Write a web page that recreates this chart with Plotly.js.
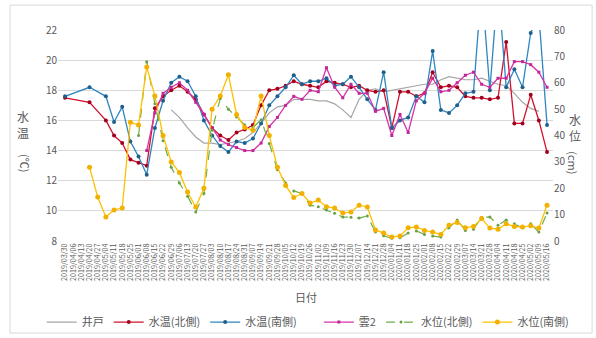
<!DOCTYPE html>
<html>
<head>
<meta charset="utf-8">
<script src="https://cdn.plot.ly/plotly-3.0.1.min.js"></script>
<style>html,body{margin:0;padding:0;background:#fff;}#chart{width:596px;height:338px;}</style>
</head>
<body>
<div id="chart"></div>
<script>
var dates = ["2019/03/30","2019/04/06","2019/04/13","2019/04/20","2019/04/27","2019/05/04","2019/05/11","2019/05/18","2019/05/25","2019/06/01",
"2019/06/08","2019/06/15","2019/06/22","2019/06/29","2019/07/06","2019/07/13","2019/07/20","2019/07/27","2019/08/03","2019/08/10",
"2019/08/17","2019/08/24","2019/08/31","2019/09/07","2019/09/14","2019/09/21","2019/09/28","2019/10/05","2019/10/12","2019/10/19",
"2019/10/26","2019/11/02","2019/11/09","2019/11/16","2019/11/23","2019/11/30","2019/12/07","2019/12/14","2019/12/21","2019/12/28",
"2020/01/04","2020/01/11","2020/01/18","2020/01/25","2020/02/01","2020/02/08","2020/02/15","2020/02/22","2020/02/29","2020/03/07",
"2020/03/14","2020/03/21","2020/03/28","2020/04/04","2020/04/11","2020/04/18","2020/04/25","2020/05/02","2020/05/09","2020/05/16"];

var well = [null,null,null,null,null,null,null,null,null,null,
null,null,null,16.7,16.2,15.5,14.9,14.5,14.5,14.4,
14.5,14.6,14.8,15.2,15.8,16.5,16.9,17.0,17.4,17.4,
17.4,17.3,17.3,17.1,16.7,16.2,17.4,18.0,18.1,17.9,
18.0,18.1,18.2,18.3,18.4,18.4,18.7,18.9,18.8,18.7,
18.7,18.8,18.6,18.4,18.3,17.8,17.2,16.8,16.6,null];

var tempNorth = [17.5,null,null,17.2,null,16.0,15.0,14.5,13.4,13.2,
13.0,16.8,17.6,18.0,18.3,17.9,17.4,16.4,15.5,15.0,
14.7,15.2,15.4,15.7,17.0,18.0,18.1,18.3,18.6,18.4,
18.3,18.2,18.6,18.5,18.4,18.2,18.3,18.0,17.9,18.0,
15.5,17.9,17.9,17.6,17.8,19.2,18.2,18.3,18.2,17.6,
17.5,17.5,17.4,17.5,21.2,15.8,15.8,17.7,16.0,13.9];

var tempSouth = [17.6,null,null,18.2,null,17.6,15.9,16.9,14.6,13.6,
12.4,15.5,17.3,18.5,18.9,18.6,17.6,16.0,15.0,14.3,
13.9,14.6,14.5,14.8,15.8,17.0,17.6,18.2,19.0,18.4,
18.6,18.6,18.8,18.3,18.4,18.9,18.2,17.4,16.7,19.2,
15.5,16.0,16.2,17.6,17.2,20.6,16.7,16.5,17.0,17.8,
17.9,25,18.0,25,18.2,19.4,18.2,21.8,23,15.7];

var kumo2 = [null,null,null,null,null,null,null,null,null,null,
14.0,16.5,17.8,18.2,18.5,18.0,17.2,16.4,15.5,14.7,
14.4,14.2,14.0,14.0,14.5,15.6,16.2,17.0,17.6,17.4,
18.0,17.9,19.5,18.2,17.5,18.4,17.8,17.8,16.6,16.8,
15.0,16.4,15.2,17.3,17.8,18.8,17.9,18.0,18.5,19.0,
19.2,18.4,18.2,18.8,18.8,19.9,19.9,19.7,19.2,18.2];

var levelNorth = [null,null,null,null,null,null,null,null,null,40,
68,52,38,28,22,17,11,18,42,54,
50,47,44,43,46,37,27,22,19,18,
13.6,13,11.8,10.5,9.1,9,8.7,9.5,3.4,2,
1,1.2,3,3.8,2.5,1.9,1.5,5,8,4,
4.5,9,9.1,6,8,6.5,5,6.5,3.4,10.6];

var levelSouth = [null,null,null,28,16.7,9.1,11.8,12.5,45,44,
66,55,40,30,26,18.6,12.9,20,50,55,
63,48,43,42,55,40,28,21,16.5,18,
14.4,15.5,13,12.5,10.6,11,13.6,12.9,4.2,3,
1.5,1.9,5,5.3,4,3.4,2.5,6,7,5,
5.5,8.5,4.9,4.5,6.5,5.5,5.3,5.8,4.9,13.6];

var names = ["井戸","水温(北側)","水温(南側)","雲2","水位(北側)","水位(南側)"];

var traces = [
 {x:dates,y:well,name:names[0],legend:"legend",mode:"lines",connectgaps:true,line:{color:"#A5A5A5",width:1.2}},
 {x:dates,y:tempNorth,name:names[1],legend:"legend",mode:"lines+markers",connectgaps:true,line:{color:"#D0102E",width:1.3},marker:{color:"#A0001E",size:4}},
 {x:dates,y:tempSouth,name:names[2],legend:"legend",mode:"lines+markers",connectgaps:true,line:{color:"#2E86C1",width:1.3},marker:{color:"#1F5F8B",size:4}},
 {x:dates,y:kumo2,name:names[3],legend:"legend2",mode:"lines+markers",connectgaps:true,line:{color:"#D633A8",width:1.3},marker:{color:"#C02896",size:3,symbol:"square"}},
 {x:dates,y:levelNorth,name:names[4],legend:"legend2",yaxis:"y2",mode:"lines+markers",connectgaps:true,line:{color:"#70AD47",width:1.2,dash:"dash"},marker:{color:"#6A9F45",size:3}},
 {x:dates,y:levelSouth,name:names[5],legend:"legend2",yaxis:"y2",mode:"lines+markers",connectgaps:true,line:{color:"#FFC000",width:1.3},marker:{color:"#F2B000",size:5}}
];

var tickFont = {family:"Noto Sans CJK JP",size:10,color:"#595959"};
var legFont = {family:"Noto Sans CJK JP",size:11,color:"#595959"};

var layout = {
 width:596,height:338,
 margin:{l:58,r:43,t:30,b:97},
 paper_bgcolor:"#ffffff",plot_bgcolor:"#ffffff",
 font:{family:"Noto Sans CJK JP",color:"#595959"},
 showlegend:true,
 legend:{orientation:"h",xref:"container",yref:"container",x:0.07,xanchor:"left",y:0.047,yanchor:"middle",font:legFont,itemwidth:30,bgcolor:"rgba(0,0,0,0)"},
 legend2:{orientation:"h",xref:"container",yref:"container",x:0.535,xanchor:"left",y:0.047,yanchor:"middle",font:legFont,itemwidth:30,bgcolor:"rgba(0,0,0,0)"},
 xaxis:{type:"category",range:[-0.86,59.73],tickmode:"linear",tick0:0,dtick:1,tickangle:-90,tickfont:{family:"Noto Sans CJK JP",size:7.2,color:"#595959"},showgrid:false,zeroline:false,showline:false,ticks:""},
 yaxis:{range:[8,22],dtick:2,tickfont:tickFont,showgrid:true,gridcolor:"#D9D9D9",gridwidth:1,zeroline:false,showline:false,ticks:""},
 yaxis2:{range:[0,80],dtick:10,overlaying:"y",side:"right",tickfont:tickFont,showgrid:false,zeroline:false,showline:false,ticks:""},
 annotations:[
  {xref:"paper",yref:"paper",x:0.5,y:-0.315,text:"日付",showarrow:false,font:{family:"Noto Sans CJK JP",size:11,color:"#595959"}},
  {xref:"paper",yref:"paper",x:-0.087,y:0.55,text:"水<br>温",showarrow:false,font:{family:"Noto Sans CJK JP",size:12,color:"#595959"}},
  {xref:"paper",yref:"paper",x:-0.087,y:0.37,text:"(℃)",textangle:90,showarrow:false,font:{family:"Noto Sans CJK JP",size:11,color:"#595959"}},
  {xref:"paper",yref:"paper",x:1.06,y:0.54,text:"水<br>位",showarrow:false,font:{family:"Noto Sans CJK JP",size:12,color:"#595959"}},
  {xref:"paper",yref:"paper",x:1.06,y:0.37,text:"(cm)",textangle:90,showarrow:false,font:{family:"Noto Sans CJK JP",size:11,color:"#595959"}}
 ],
 shapes:[
  {type:"rect",xref:"paper",yref:"paper",x0:-0.097,x1:1.079,y0:-0.436,y1:1.118,line:{color:"#D9D9D9",width:1},layer:"below"}
 ]
};

Plotly.newPlot("chart",traces,layout,{displayModeBar:false,staticPlot:true});
</script>
</body>
</html>
